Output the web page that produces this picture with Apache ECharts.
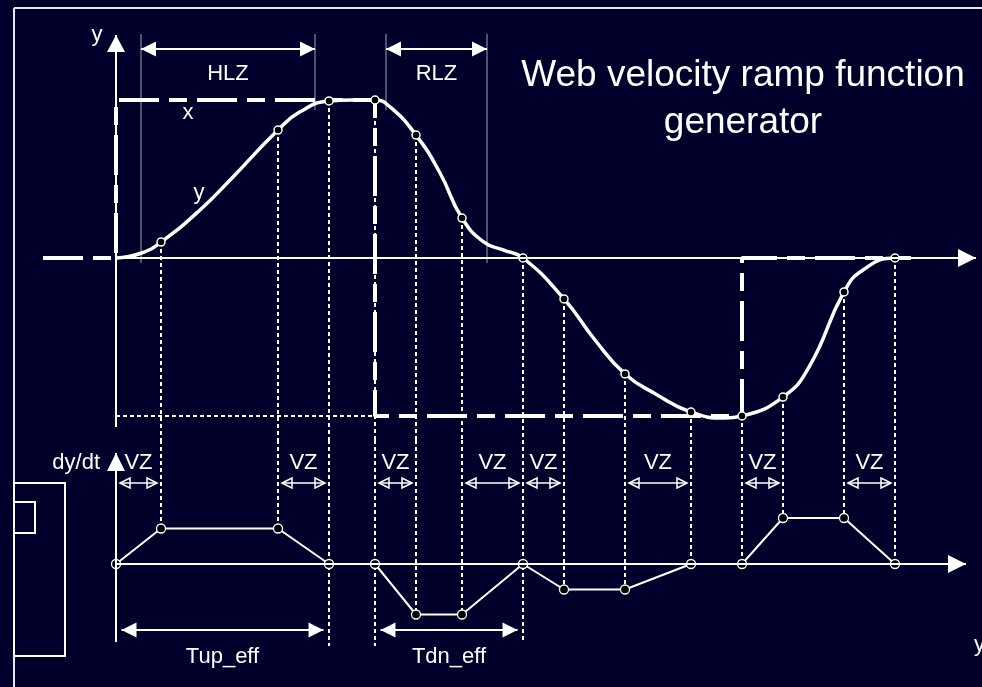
<!DOCTYPE html>
<html><head><meta charset="utf-8">
<script src="https://cdn.jsdelivr.net/npm/echarts@6/dist/echarts.min.js"></script>
<style>html,body{margin:0;padding:0;background:#00002b}#c{width:982px;height:687px}</style>
</head><body><div id="c"></div>
<script>
// ================= DATA =================
// key instants of the ramp (time units)
const keyTimes = [0, 4.5, 16.2, 21.3, 25.9, 30.0, 34.6, 40.7, 44.8, 50.9, 57.5, 62.6, 66.7, 72.8, 77.9];
// ramp output y at the key instants (normalized)
const markerY = [0, 0.101, 0.81, 0.994, 1.0, 0.778, 0.253, 0, -0.259, -0.734, -0.975, -1.0, -0.88, -0.215, 0];
// dy/dt at the key instants
const rateY = [0, 0.71, 0.71, 0, 0, -1.01, -1.01, 0, -0.51, -0.51, 0, 0, 0.92, 0.92, 0];
// lower end of the dotted guides (dy/dt panel)
const guideLow = [null, 0.71, 0.71, -1.64, -1.64, -1.01, -1.01, -1.56, -0.51, -0.51, 0, 0, 0.92, 0.92, 0];
// smooth ramp output y(t)
const curveT = [0, 2.5, 4.5, 8.4, 11.7, 16.2, 18.4, 21.3, 23.6, 25.9, 27.4, 30.0, 32.4, 34.6, 36.8, 38.7, 40.7, 44.8, 47.9, 50.9, 54.0, 57.5, 60.9, 62.6, 66.7, 69.3, 72.8, 74.7, 77.9, 79.5];
const curveY = [0, 0.03, 0.101, 0.304, 0.513, 0.81, 0.925, 0.994, 1.0, 1.0, 0.956, 0.778, 0.538, 0.253, 0.1, 0.051, 0, -0.259, -0.519, -0.734, -0.862, -0.975, -1.013, -1.0, -0.88, -0.69, -0.215, -0.076, 0, 0];
// setpoint x(t) (step input)
const setT = [-7.3, 0, 0, 25.9, 25.9, 62.6, 62.6, 79.5];
const setX = [0, 0, 1, 1, -1, -1, 0, 0];
// zones
const hlzZone = [2.5, 19.9];
const rlzZone = [27.0, 37.1];
const vzZones = [[0, 4.5], [16.2, 21.3], [25.9, 30.0], [34.6, 40.7], [40.7, 44.8], [50.9, 57.5], [62.6, 66.7], [72.8, 77.9]];
const tupZone = [0, 21.3];
const tdnZone = [25.9, 40.7];

// ================= LAYOUT / STYLE =================
const FG = '#ffffff', BG = '#00002b', GRAY = '#a0a0b4';
const FAM = '"Liberation Sans", Arial, sans-serif';
const W = 982, H = 687, X0 = 116, UX = 10, Z0 = 258, U0 = 158, SPLIT = 440, Z1 = 564, U1 = 50;
const XMIN = -X0 / UX, XMAX = (W - X0) / UX;
const Y0MAX = Z0 / U0, Y0MIN = -(SPLIT - Z0) / U0;
const Y1MAX = (Z1 - SPLIT) / U1, Y1MIN = -(H - Z1) / U1;
// annotation rows (in panel units)
const zoneTop = 1.418, zoneArrowY = 1.323, zoneTextY = 1.165, zoneShortBottom = 0.937, zoneLongBottom = -0.032;
const vzTextY = 2.02, vzArrowY = 1.62, effArrowY = -1.32, effTextY = -1.86;

function segs(grid, items, style, z) {
  return { type: 'custom', xAxisIndex: grid, yAxisIndex: grid, z: z, silent: true, data: items,
    renderItem(p, api) {
      const a = api.coord([api.value(0), api.value(1)]), b = api.coord([api.value(2), api.value(3)]);
      return { type: 'line', shape: { x1: a[0], y1: a[1], x2: b[0], y2: b[1] }, style: style };
    } };
}
function arrows(grid, items, o) {
  return { type: 'custom', xAxisIndex: grid, yAxisIndex: grid, z: o.z || 6, silent: true, data: items,
    renderItem(p, api) {
      let a = api.coord([api.value(0), api.value(1)]), b = api.coord([api.value(2), api.value(3)]);
      const dx = b[0] - a[0], dy = b[1] - a[1], L = Math.hypot(dx, dy), ux = dx / L, uy = dy / L;
      const ins = o.inset || 0;
      a = [a[0] + ux * ins, a[1] + uy * ins]; b = [b[0] - ux * ins, b[1] - uy * ins];
      const head = (tip, s) => {
        const bx = tip[0] - ux * s * o.len, by = tip[1] - uy * s * o.len;
        return { type: 'polygon', shape: { points: [tip, [bx - uy * o.half, by + ux * o.half], [bx + uy * o.half, by - ux * o.half]] },
          style: o.hollow ? { fill: 'none', stroke: FG, lineWidth: 1.5 } : { fill: FG } };
      };
      const ch = [{ type: 'line', shape: { x1: a[0], y1: a[1], x2: b[0], y2: b[1] }, style: { stroke: FG, lineWidth: o.width || 2 } }];
      ch.push(head(b, 1));
      if (o.both) ch.push(head(a, -1));
      return { type: 'group', children: ch };
    } };
}
function texts(grid, items, size) {
  return { type: 'custom', xAxisIndex: grid, yAxisIndex: grid, z: 8, silent: true,
    data: items.map(d => [d[0], d[1]]),
    renderItem(p, api) {
      const d = items[p.dataIndex];
      const c = api.coord([d[0], d[1]]);
      return { type: 'text', x: c[0], y: c[1],
        style: { text: d[2], fill: FG, font: size + 'px ' + FAM, align: d[3] || 'center', verticalAlign: 'middle' } };
    } };
}

const dotted = { stroke: FG, lineWidth: 2, lineDash: [4, 3] };
const upperGuides = keyTimes.map((t, i) => [t, markerY[i], t, Y0MIN]).slice(1);
const lowerGuides = keyTimes.map((t, i) => [t, Y1MAX, t, guideLow[i]]).slice(1);
const mid = z => (z[0] + z[1]) / 2;

const option = {
  backgroundColor: BG,
  animation: false,
  grid: [
    { left: 0, right: 0, top: 0, height: SPLIT },
    { left: 0, right: 0, top: SPLIT, height: H - SPLIT }
  ],
  xAxis: [
    { type: 'value', gridIndex: 0, min: XMIN, max: XMAX, show: false },
    { type: 'value', gridIndex: 1, min: XMIN, max: XMAX, show: false }
  ],
  yAxis: [
    { type: 'value', gridIndex: 0, min: Y0MIN, max: Y0MAX, show: false },
    { type: 'value', gridIndex: 1, min: Y1MIN, max: Y1MAX, show: false }
  ],
  graphic: [
    { type: 'line', shape: { x1: 14, y1: 8, x2: W, y2: 8 }, style: { stroke: '#e6e6ee', lineWidth: 2 } },
    { type: 'line', shape: { x1: 14, y1: 8, x2: 14, y2: H }, style: { stroke: '#e6e6ee', lineWidth: 2 } },
    { type: 'rect', shape: { x: 14, y: 483, width: 51, height: 173 }, style: { fill: 'none', stroke: FG, lineWidth: 2 } },
    { type: 'rect', shape: { x: 14, y: 502, width: 21, height: 31 }, style: { fill: 'none', stroke: FG, lineWidth: 2 } },
    { type: 'text', x: 743, y: 99, style: { text: 'Web velocity ramp function\ngenerator', fill: FG, font: '37px ' + FAM, align: 'center', verticalAlign: 'middle', lineHeight: 47 } }
  ],
  series: [
    // dotted guides
    segs(0, upperGuides, dotted, 2),
    segs(1, lowerGuides, dotted, 2),
    segs(0, [[keyTimes[0], -1, keyTimes[4], -1]], dotted, 2),
    // zone boundary lines
    segs(0, [[hlzZone[0], zoneTop, hlzZone[0], zoneLongBottom], [hlzZone[1], zoneTop, hlzZone[1], zoneShortBottom],
             [rlzZone[0], zoneTop, rlzZone[0], zoneShortBottom], [rlzZone[1], zoneTop, rlzZone[1], zoneLongBottom]],
         { stroke: GRAY, lineWidth: 1 }, 2),
    // ramp output curve
    { type: 'line', xAxisIndex: 0, yAxisIndex: 0, z: 4, data: curveT.map((t, i) => [t, curveY[i]]),
      smooth: 0.5, showSymbol: false, symbol: 'none', silent: true,
      lineStyle: { color: FG, width: 3.5 } },
    // setpoint step
    { type: 'line', xAxisIndex: 0, yAxisIndex: 0, z: 5, data: setT.map((t, i) => [t, setX[i]]),
      showSymbol: false, symbol: 'none', silent: true,
      lineStyle: { color: FG, width: 4, type: [40, 10, 18, 10] } },
    // markers on the curve
    { type: 'scatter', xAxisIndex: 0, yAxisIndex: 0, z: 6, silent: true,
      data: keyTimes.map((t, i) => [t, markerY[i]]).slice(1),
      symbol: 'circle', symbolSize: 8, itemStyle: { color: '#000', borderColor: FG, borderWidth: 1.5, opacity: 1 } },
    // dy/dt profile
    { type: 'line', xAxisIndex: 1, yAxisIndex: 1, z: 5, data: keyTimes.map((t, i) => [t, rateY[i]]),
      symbol: 'circle', symbolSize: 9, showSymbol: true, silent: true,
      lineStyle: { color: FG, width: 2 }, itemStyle: { color: '#000', borderColor: FG, borderWidth: 1.3 } },
    // axes
    arrows(0, [[0, 0, 86.0, 0]], { len: 18, half: 9, z: 7 }),
    arrows(0, [[0, -1.07, 0, 1.411]], { len: 17, half: 9, z: 7 }),
    arrows(1, [[0, 0, 85.0, 0]], { len: 18, half: 9, z: 7 }),
    arrows(1, [[0, -1.56, 0, 2.22]], { len: 18, half: 9, z: 7 }),
    // zone arrows
    arrows(0, [[hlzZone[0], zoneArrowY, hlzZone[1], zoneArrowY], [rlzZone[0], zoneArrowY, rlzZone[1], zoneArrowY]], { len: 15, half: 7.5, both: true }),
    arrows(1, vzZones.map(z => [z[0], vzArrowY, z[1], vzArrowY]), { len: 10, half: 5, both: true, hollow: true, inset: 4, width: 1.5 }),
    arrows(1, [[tupZone[0], effArrowY, tupZone[1], effArrowY], [tdnZone[0], effArrowY, tdnZone[1], effArrowY]], { len: 15, half: 7.5, both: true, inset: 5.5 }),
    // labels
    texts(0, [[-1.9, 1.411, 'y'], [7.2, 0.918, 'x'], [8.3, 0.411, 'y'],
              [mid(hlzZone), zoneTextY, 'HLZ'], [mid(rlzZone), zoneTextY, 'RLZ']], 22),
    texts(1, vzZones.map(z => [mid(z), vzTextY, 'VZ']).concat([
              [-1.6, vzTextY, 'dy/dt', 'right'],
              [mid(tupZone), effTextY, 'Tup_eff'], [mid(tdnZone), effTextY, 'Tdn_eff'],
              [85.8, -1.62, 'y', 'left']]), 22)
  ]
};
const chart = echarts.init(document.getElementById('c'), null, { renderer: 'canvas' });
chart.setOption(option);
</script></body></html>
